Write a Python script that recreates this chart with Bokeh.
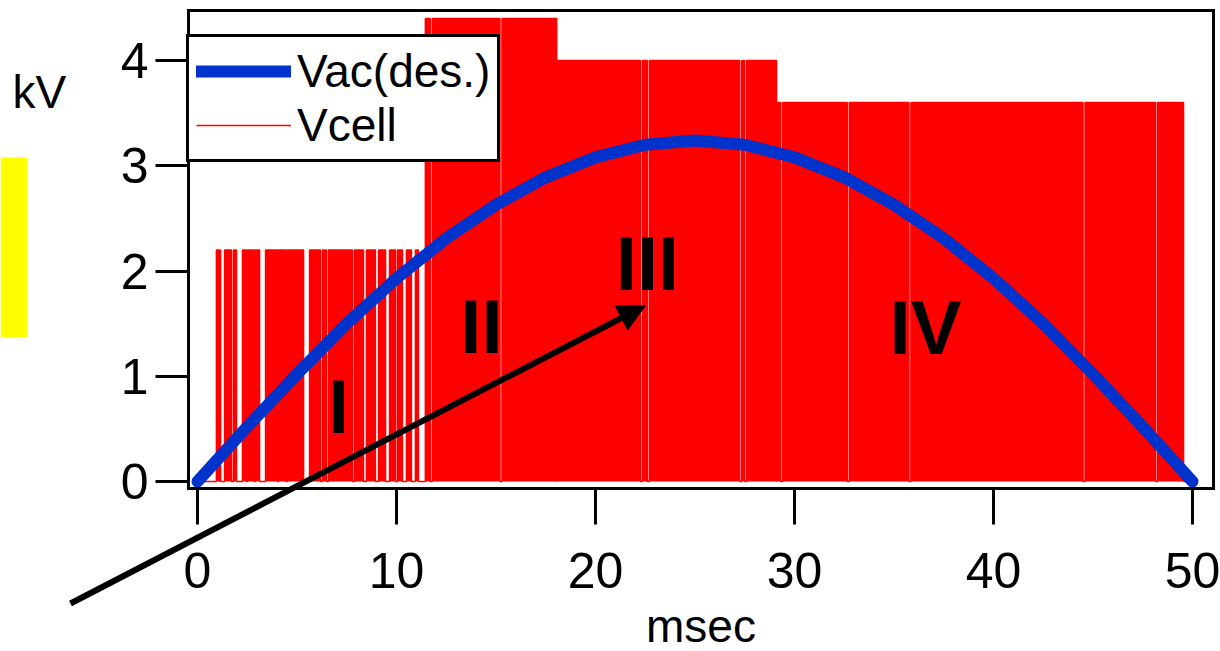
from bokeh.plotting import figure
from bokeh.models import (Range1d, FixedTicker, Legend, LegendItem, Arrow, NormalHead,
                          Label, BoxAnnotation, LinearAxis)
from bokeh.embed import file_html
from bokeh.resources import INLINE

FONT = "Liberation Sans"

# Desired AC voltage (kV) sampled every 2.5 ms
vac_t = [0, 2.5, 5, 7.5, 10, 12.5, 15, 17.5, 20, 22.5, 25,
         27.5, 30, 32.5, 35, 37.5, 40, 42.5, 45, 47.5, 50]
vac_kv = [0, 0.52, 1.02, 1.50, 1.93, 2.31, 2.63, 2.89, 3.08, 3.20, 3.24,
          3.20, 3.08, 2.89, 2.63, 2.31, 1.93, 1.50, 1.02, 0.52, 0]

# Stage I: individual 2.2 kV pulses (on / off times, ms)
stage1_on = [0.95, 1.36, 1.81, 2.26, 2.51, 2.91, 3.42, 4.07, 4.52, 5.63, 6.28,
             6.58, 7.89, 8.49, 9.10, 9.65, 10.05, 10.50, 10.95]
stage1_off = [1.16, 1.71, 1.96, 2.46, 2.86, 3.12, 4.02, 4.47, 5.33, 6.18, 6.48,
              7.79, 8.34, 8.94, 9.45, 9.95, 10.30, 10.75, 11.10]
stage1_kv = 2.2

# Stages II-IV: sustained switching levels
stage_start = [11.45, 18.05, 29.10]
stage_end = [18.05, 29.10, 49.55]
stage_kv = [4.4, 4.0, 3.6]
# brief off-times inside the sustained stages (ms)
gap_t = [11.75, 15.25, 22.30, 22.65, 27.30, 27.55, 29.35, 32.70, 35.80, 44.55, 48.20]
gap_w = 0.1

x_ticks = [0, 10, 20, 30, 40, 50]
y_ticks = [0, 1, 2, 3, 4]

# Stage labels: (name, x ms, centre kV)
stage_names = ["I", "II", "III", "IV"]
stage_x = [7.09, 14.27, 22.61, 36.58]
stage_y = [0.71, 1.47, 2.07, 1.46]

# --- build Vcell on-intervals -------------------------------------------
left, right, top = [], [], []
for a, b in zip(stage1_on, stage1_off):
    left.append(a); right.append(b); top.append(stage1_kv)
for s, e, kv in zip(stage_start, stage_end, stage_kv):
    cuts = sorted(g for g in gap_t if s < g < e)
    cur = s
    for g in cuts:
        left.append(cur); right.append(g - gap_w / 2); top.append(kv)
        cur = g + gap_w / 2
    left.append(cur); right.append(e); top.append(kv)

trace_x, trace_y = [0.0], [0.0]
for a, b, kv in zip(left, right, top):
    trace_x += [a, a, b, b]
    trace_y += [0, kv, kv, 0]
trace_x.append(50.0); trace_y.append(0.0)

# --- canvas geometry: the frame fills the whole page, axes sit at fixed spots
W, H = 1220, 651
PX_MS, X0 = 19.9, 197.0      # pixels per ms, pixel column of t = 0
PX_KV, Y0 = 105.25, 481.0    # pixels per kV, pixel row of 0 kV

def dx(px):
    return (px - X0) / PX_MS

def dy(py):
    return (Y0 - py) / PX_KV

box_l, box_r, box_t, box_b = dx(188), dx(1213), dy(10), dy(488)

p = figure(frame_width=W, frame_height=H, min_border=0,
           x_range=Range1d(dx(0), dx(W)), y_range=Range1d(dy(H), dy(0)),
           output_backend="svg", toolbar_location=None, tools="")
p.background_fill_color = "white"
p.border_fill_color = "white"
p.grid.visible = False
p.outline_line_color = None

red = "#ff0000"
blue = "#0033cc"

p.quad(left=left, right=right, bottom=0, top=top, fill_color=red, line_color=None)
vcell = p.line(trace_x, trace_y, line_color=red, line_width=1.5)
vac = p.line(vac_t, vac_kv, line_color=blue, line_width=12, line_cap="round", line_join="round")

xa, ya = p.xaxis[0], p.yaxis[0]
xa.fixed_location = box_b
ya.fixed_location = box_l
xa.bounds = (box_l, box_r)
ya.bounds = (box_b, box_t)
for ax in (xa, ya):
    ax.axis_line_color = "black"
    ax.axis_line_width = 3
    ax.axis_line_cap = "square"
    ax.major_tick_line_color = "black"
    ax.major_tick_line_width = 3
    ax.major_tick_in = 0
    ax.minor_tick_line_color = None
    ax.major_label_text_font = FONT
    ax.major_label_text_font_size = "50px"
    ax.major_label_text_color = "black"

xa.ticker = FixedTicker(ticks=x_ticks)
ya.ticker = FixedTicker(ticks=y_ticks)
xa.major_tick_out = 36
ya.major_tick_out = 33
xa.major_label_standoff = 28
ya.major_label_standoff = 7
xa.axis_label = "msec"
xa.axis_label_text_font = FONT
xa.axis_label_text_font_size = "46px"
xa.axis_label_text_font_style = "normal"
xa.axis_label_text_color = "black"
xa.axis_label_standoff = 9

# closing lines of the plot box (top and right), tick-free axes
for place, loc, bnds in (("above", box_t, (box_l, box_r)), ("right", box_r, (box_b, box_t))):
    edge = LinearAxis(fixed_location=loc, bounds=bnds, ticker=FixedTicker(ticks=[]),
                      axis_line_color="black", axis_line_width=3, axis_line_cap="square",
                      major_tick_line_color=None, minor_tick_line_color=None,
                      major_label_text_font_size="0px")
    p.add_layout(edge, place)

p.add_layout(BoxAnnotation(left=dx(0), right=dx(27), bottom=dy(337), top=dy(157),
                           fill_color="#ffff00", fill_alpha=1, line_color=None))

legend = Legend(items=[LegendItem(label="Vac(des.)", renderers=[vac]),
                       LegendItem(label="Vcell", renderers=[vcell])],
                location=(186, 489), glyph_width=95, glyph_height=50, label_height=50,
                spacing=0, padding=7, margin=0, label_standoff=6,
                label_text_font=FONT, label_text_font_size="46px", label_text_color="black",
                border_line_color="black", border_line_width=3, border_line_alpha=1,
                background_fill_color="white", background_fill_alpha=1)
p.add_layout(legend)

for name, x, y in zip(stage_names, stage_x, stage_y):
    p.add_layout(Label(x=x, y=y, text=name, text_align="center", text_baseline="middle",
                       text_font=FONT, text_font_size="76px", text_font_style="bold",
                       text_color="black"))

p.add_layout(Arrow(end=NormalHead(size=27, fill_color="black", line_color="black"),
                   x_start=dx(70), y_start=dy(603), x_end=dx(645), y_end=dy(305),
                   line_color="black", line_width=6))

p.add_layout(Label(x=dx(12), y=dy(91), text="kV", text_align="left", text_baseline="middle",
                   text_font=FONT, text_font_size="46px", text_color="black"))

open("out.html", "w").write(file_html(p, INLINE))
